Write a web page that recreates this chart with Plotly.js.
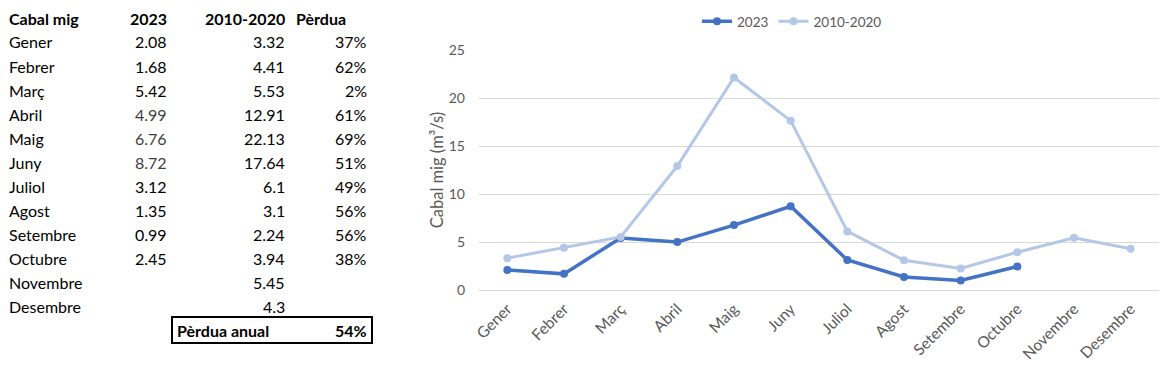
<!DOCTYPE html>
<html><head><meta charset="utf-8">
<script src="https://cdn.plot.ly/plotly-3.0.1.min.js"></script>
<style>html,body{margin:0;padding:0;background:#fff;}#chart{width:1169px;height:372px;}</style>
</head><body><div id="chart"></div>
<script>
const months = ["Gener","Febrer","Març","Abril","Maig","Juny","Juliol","Agost","Setembre","Octubre","Novembre","Desembre"];
const flow2023 = [2.08,1.68,5.42,4.99,6.76,8.72,3.12,1.35,0.99,2.45,null,null];
const flowRef = [3.32,4.41,5.53,12.91,22.13,17.64,6.1,3.1,2.24,3.94,5.45,4.3];
const lossPct = ["37%","62%","2%","61%","69%","51%","49%","56%","56%","38%","",""];
const headers = ["Cabal mig","2023","2010-2020","Pèrdua"];
const annualLabel = "Pèrdua anual";
const annualLoss = "54%";
const yTicks = [0,5,10,15,20,25];

const W = 1159; // paper width (margin l=0, r=10)
const plotTop = 50, plotBottom = 290;
const px = x => x / W;
const py = y => (plotBottom - y) / (plotBottom - plotTop);
const rowY = i => 18 + 24 * i;

const tf = {family: "Lato, 'Open Sans', sans-serif", size: 16, color: "#000"};
const tfb = Object.assign({}, tf, {weight: 700});
const ann = [];
function t(text, x, row, anchor, font) {
  ann.push({text: text, x: px(x), y: py(rowY(row)), xref: "paper", yref: "paper",
    xanchor: anchor, yanchor: "middle", showarrow: false, font: font});
}
// header
t(headers[0], 7, 0, "left", tfb);
t(headers[1], 169, 0, "right", tfb);
t(headers[2], 287, 0, "right", tfb);
t(headers[3], 294, 0, "left", tfb);
months.forEach((m, i) => {
  t(m, 7, i + 1, "left", tf);
  if (flow2023[i] !== null) {
    const g = (i >= 3 && i <= 5) ? Object.assign({}, tf, {color: "#404040"}) : tf;
    t(flow2023[i].toFixed(2), 169, i + 1, "right", g);
  }
  t(String(flowRef[i]), 287, i + 1, "right", tf);
  if (lossPct[i]) t(lossPct[i], 369, i + 1, "right", tf);
});
t(annualLabel, 175, 13, "left", tfb);
t(annualLoss, 369, 13, "right", tfb);

const fam = "Lato, 'Open Sans', sans-serif";
const grey = "#595959";
const legendFont = {family: fam, size: 13.5, color: grey};
const xTickFont = {family: fam, size: 15.5, color: grey};
const yTickFont = {family: fam, size: 14, color: grey};
const titleFont = {family: fam, size: 16.5, color: grey};

const traces = [
  {x: months, y: flow2023, name: "2023", type: "scatter", mode: "lines+markers",
   line: {color: "#4472C4", width: 3.5}, marker: {color: "#4472C4", size: 8}},
  {x: months, y: flowRef, name: "2010-2020", type: "scatter", mode: "lines+markers",
   line: {color: "#B4C7E7", width: 3}, marker: {color: "#B4C7E7", size: 8}}
];

const layout = {
  width: 1169, height: 372,
  margin: {l: 0, r: 10, t: plotTop, b: 372 - plotBottom},
  paper_bgcolor: "#fff", plot_bgcolor: "#fff",
  font: legendFont,
  showlegend: true,
  legend: {orientation: "h", xref: "container", yref: "container", x: 792 / 1169, y: 1 - 6 / 372,
    xanchor: "center", yanchor: "top", font: legendFont, itemwidth: 30, tracegroupgap: 0},
  xaxis: {domain: [479 / W, 1], type: "category", range: [-0.5, 11.5], tickangle: -45,
    showgrid: false, zeroline: false, showline: false, ticks: "", tickfont: xTickFont,
    ticklabelstandoff: 6, automargin: false, fixedrange: true},
  yaxis: {range: [0, 25], tickvals: yTicks, showgrid: true, gridcolor: "#D9D9D9", gridwidth: 1,
    zeroline: true, zerolinecolor: "#D9D9D9", zerolinewidth: 1, showline: false, ticks: "",
    tickfont: yTickFont, ticklabelstandoff: 13, automargin: false, fixedrange: true,
    title: {text: "Cabal mig (m³/s)", font: titleFont, standoff: 0}},
  annotations: ann,
  shapes: [{type: "rect", xref: "paper", yref: "paper", x0: px(172), x1: px(372),
    y0: py(343), y1: py(317), line: {color: "#000", width: 2}}]
};
Plotly.newPlot("chart", traces, layout, {displayModeBar: false, staticPlot: true});
</script></body></html>
